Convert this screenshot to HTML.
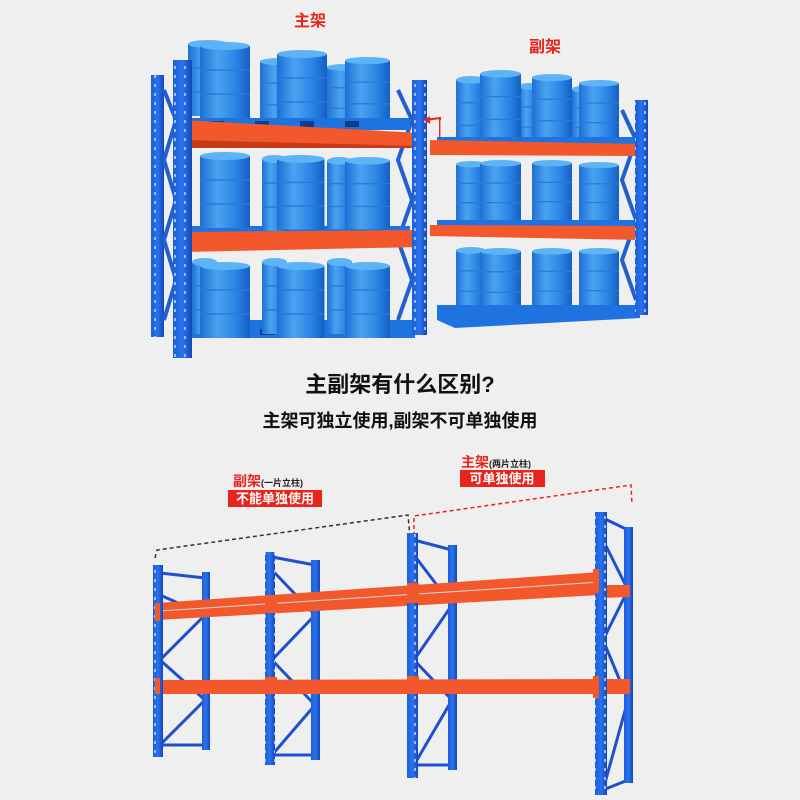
<!DOCTYPE html>
<html><head><meta charset="utf-8"><style>
html,body{margin:0;padding:0;background:#efefef;}
svg{display:block}
text{font-family:"Liberation Sans","Noto Sans CJK SC",sans-serif;}
</style></head><body>
<svg width="800" height="800" viewBox="0 0 800 800" xmlns="http://www.w3.org/2000/svg">
<defs>
<linearGradient id="bar" x1="0" x2="1" y1="0" y2="0">
<stop offset="0" stop-color="#1f6fd6"/><stop offset="0.35" stop-color="#4aa3f0"/><stop offset="0.7" stop-color="#2b86e6"/><stop offset="1" stop-color="#155fc4"/></linearGradient>
<linearGradient id="up" x1="0" x2="1"><stop offset="0" stop-color="#1a5fd8"/><stop offset="0.5" stop-color="#2a72ee"/><stop offset="1" stop-color="#1547b8"/></linearGradient>
<pattern id="holes" width="10" height="9" patternUnits="userSpaceOnUse"><rect x="4" y="3" width="2" height="3" fill="#9fbcf0"/></pattern>
<g id="brl"><rect x="0" y="4" width="50" height="72" fill="url(#bar)"/><ellipse cx="25" cy="4" rx="25" ry="4" fill="#5cb3f5"/><line x1="0" y1="28" x2="50" y2="28" stroke="#2a7ad8" stroke-width="1.5"/><line x1="0" y1="52" x2="50" y2="52" stroke="#2a7ad8" stroke-width="1.5"/></g>
</defs>
<rect width="800" height="800" fill="#efefef"/>

<text x="310" y="26" font-size="16" font-weight="bold" fill="#e8241c" text-anchor="middle">主架</text>
<text x="545" y="52" font-size="16" font-weight="bold" fill="#e8241c" text-anchor="middle">副架</text>

<!-- LEFT RACK -->
<rect x="151" y="75" width="13" height="262" fill="url(#up)"/>
<rect x="151" y="75" width="13" height="262" fill="url(#holes)"/>
<path d="M164 90 L176 120 L164 160 L176 200 L164 240 L176 280 L164 320" stroke="#1f5fd0" stroke-width="4" fill="none"/>
<path d="M398 90 L412 120 L398 160 L412 200 L398 240 L412 280 L398 320" stroke="#1f5fd0" stroke-width="4" fill="none"/>
<use href="#brl" transform="translate(188,40) scale(0.8,1)"/>
<use href="#brl" transform="translate(260,58) scale(0.8,0.9)"/>
<use href="#brl" transform="translate(326,64) scale(0.8,0.85)"/>
<use href="#brl" transform="translate(200,42)"/>
<use href="#brl" transform="translate(277,50)"/>
<use href="#brl" transform="translate(345,57) scale(0.9,0.9)"/>
<rect x="190" y="118" width="220" height="12" fill="#1e73e0"/>
<rect x="190" y="226" width="220" height="10" fill="#1e73e0"/>
<rect x="190" y="320" width="225" height="18" fill="#1e73e0"/>
<g fill="#0f3d8a"><rect x="210" y="121" width="14" height="6"/><rect x="255" y="121" width="14" height="6"/><rect x="300" y="121" width="14" height="6"/><rect x="345" y="121" width="14" height="6"/><rect x="210" y="329" width="14" height="6"/><rect x="260" y="329" width="14" height="6"/><rect x="310" y="329" width="14" height="6"/><rect x="360" y="329" width="14" height="6"/></g>
<use href="#brl" transform="translate(200,152)"/>
<use href="#brl" transform="translate(262,155) scale(0.5,1)"/>
<use href="#brl" transform="translate(277,155) scale(0.95,0.98)"/>
<use href="#brl" transform="translate(327,157) scale(0.5,0.95)"/>
<use href="#brl" transform="translate(345,157) scale(0.9,0.95)"/>
<use href="#brl" transform="translate(192,258) scale(0.5,1)"/>
<use href="#brl" transform="translate(200,262)"/>
<use href="#brl" transform="translate(262,258) scale(0.5,1)"/>
<use href="#brl" transform="translate(277,262) scale(0.95,1)"/>
<use href="#brl" transform="translate(327,258) scale(0.5,1)"/>
<use href="#brl" transform="translate(345,262) scale(0.9,1)"/>
<polygon points="183,120 420,133 420,147 183,145" fill="#f2582c"/>
<polygon points="183,140 420,146 420,148 183,148" fill="#c63a18"/>
<polygon points="183,232 420,230 420,247 183,252" fill="#f2582c"/>
<rect x="173" y="60" width="19" height="298" fill="url(#up)"/>
<rect x="173" y="60" width="19" height="298" fill="url(#holes)"/>
<rect x="412" y="80" width="15" height="255" fill="url(#up)"/>
<rect x="412" y="80" width="15" height="255" fill="url(#holes)"/>
<path d="M425 120 L440 118 L440 148 L485 148" stroke="#e8241c" stroke-width="2" fill="none"/>
<path d="M441 120 L441 146 L483 146" stroke="#fff" stroke-width="1" fill="none"/>
<polygon points="424,120 430,116 430,124" fill="#e8241c"/>

<!-- RIGHT RACK -->
<path d="M622 110 L636 140 L622 180 L636 220 L622 260 L636 300" stroke="#1f5fd0" stroke-width="4" fill="none"/>
<use href="#brl" transform="translate(456,76) scale(0.6,0.95)"/>
<use href="#brl" transform="translate(519,83) scale(0.4,0.85)"/>
<use href="#brl" transform="translate(572,86) scale(0.4,0.8)"/>
<use href="#brl" transform="translate(480,70) scale(0.82,0.95)"/>
<use href="#brl" transform="translate(532,74) scale(0.8,0.9)"/>
<use href="#brl" transform="translate(579,80) scale(0.8,0.82)"/>
<rect x="437" y="137" width="200" height="10" fill="#1e73e0"/>
<use href="#brl" transform="translate(456,161) scale(0.6,0.8)"/>
<use href="#brl" transform="translate(480,160) scale(0.82,0.82)"/>
<use href="#brl" transform="translate(532,160) scale(0.8,0.8)"/>
<use href="#brl" transform="translate(579,162) scale(0.8,0.78)"/>
<rect x="437" y="220" width="200" height="10" fill="#1e73e0"/>
<use href="#brl" transform="translate(456,247) scale(0.6,0.85)"/>
<use href="#brl" transform="translate(480,248) scale(0.82,0.85)"/>
<use href="#brl" transform="translate(532,248) scale(0.8,0.83)"/>
<use href="#brl" transform="translate(579,248) scale(0.8,0.82)"/>
<polygon points="437,305 640,305 640,318 455,328 437,320" fill="#1e73e0"/>
<polygon points="430,140 643,144 643,156 430,155" fill="#f2582c"/>
<polygon points="430,225 643,226 643,240 430,236" fill="#f2582c"/>
<rect x="635" y="100" width="13" height="215" fill="url(#up)"/>
<rect x="635" y="100" width="13" height="215" fill="url(#holes)"/>

<text x="400" y="392" font-size="22" font-weight="bold" fill="#111" text-anchor="middle">主副架有什么区别?</text>
<text x="400" y="427" font-size="18" fill="#111" text-anchor="middle" font-weight="bold">主架可独立使用,副架不可单独使用</text>

<text x="233" y="486" font-size="14" font-weight="bold" fill="#e8241c">副架<tspan font-size="9" fill="#222">(一片立柱)</tspan></text>
<rect x="228" y="490" width="94" height="17" fill="#e8241c"/>
<text x="275" y="503" font-size="13" fill="#fff" text-anchor="middle" font-weight="bold">不能单独使用</text>
<text x="461" y="467" font-size="14" font-weight="bold" fill="#e8241c">主架<tspan font-size="9" fill="#222">(两片立柱)</tspan></text>
<rect x="460" y="470" width="85" height="17" fill="#e8241c"/>
<text x="502" y="483" font-size="13" fill="#fff" text-anchor="middle" font-weight="bold">可单独使用</text>

<path d="M155 558 L157 550 L408 515 L410 537" stroke="#333" stroke-width="1.5" stroke-dasharray="4,3" fill="none"/>
<path d="M414 536 L414 516 L631 485 L632 505" stroke="#e8241c" stroke-width="1.5" stroke-dasharray="4,3" fill="none"/>

<g stroke="#1d4fd0" stroke-width="3" fill="none">
<path d="M160 573 L205 578 M160 595 L205 615 L160 660 L205 700 L160 745 L205 745"/>
<path d="M272 557 L315 565 M272 570 L315 615 L272 660 L315 705 L272 755 L315 755"/>
<path d="M414 540 L452 550 M414 555 L452 605 L414 660 L452 700 L414 765 L452 765"/>
<path d="M603 518 L628 530 M603 540 L628 590 L603 640 L628 700 L603 790 L628 780"/>
</g>
<g fill="url(#up)">
<rect x="202" y="572" width="8" height="178"/><rect x="311" y="560" width="9" height="200"/>
<rect x="448" y="545" width="9" height="225"/><rect x="624" y="527" width="9" height="256"/>
</g>
<polygon points="157,603 600,572 600,595 157,620" fill="#f2582c"/>
<polygon points="600,585 630,585 630,597 600,598" fill="#f2582c"/>
<line x1="160" y1="611" x2="600" y2="582" stroke="#d8d8d8" stroke-width="1"/>
<polygon points="157,680 630,679 630,694 157,694" fill="#f2582c"/>
<g>
<rect x="153" y="565" width="10" height="192" fill="url(#up)"/><rect x="153" y="565" width="10" height="192" fill="url(#holes)"/>
<rect x="265" y="552" width="10" height="213" fill="url(#up)"/><rect x="265" y="552" width="10" height="213" fill="url(#holes)"/>
<rect x="407" y="533" width="11" height="245" fill="url(#up)"/><rect x="407" y="533" width="11" height="245" fill="url(#holes)"/>
<rect x="595" y="512" width="12" height="283" fill="url(#up)"/><rect x="595" y="512" width="12" height="283" fill="url(#holes)"/>
</g>
<g fill="#f2582c">
<rect x="155" y="603" width="5" height="18"/><rect x="265" y="595" width="12" height="18"/><rect x="407" y="583" width="12" height="20"/><rect x="593" y="569" width="6" height="24"/>
<rect x="155" y="678" width="5" height="16"/><rect x="265" y="677" width="12" height="17"/><rect x="407" y="676" width="12" height="18"/><rect x="593" y="676" width="6" height="22"/>
</g>
</svg>
</body></html>
